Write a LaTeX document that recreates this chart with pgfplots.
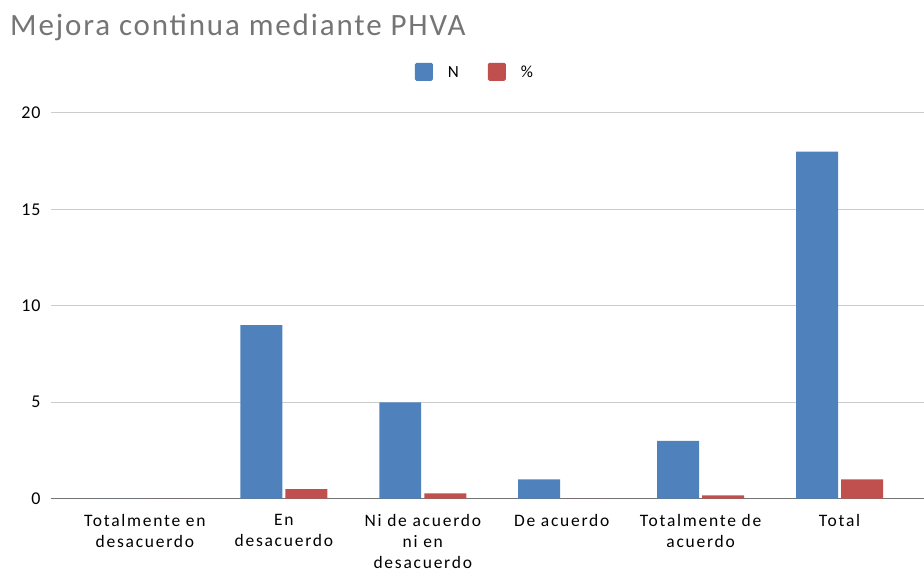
\documentclass[border=0pt]{standalone}
\usepackage{pgfplots}
\pgfplotsset{compat=1.18}
\usepackage{fontspec}
\setmainfont{Carlito}
\newfontfamily\labfont[LetterSpace=10]{Carlito}
\newfontfamily\legfont[LetterSpace=6]{Carlito}
\newfontfamily\titfont[LetterSpace=6]{Carlito}
\newfontfamily\tickfont[LetterSpace=4]{Carlito}
\definecolor{barblue}{HTML}{4F81BD}
\definecolor{barred}{HTML}{C0504D}
\definecolor{titlegray}{HTML}{757575}
\begin{document}
\begin{tikzpicture}
\begin{axis}[
  at={(0,0)}, anchor=south west,
  scale only axis, width=873pt, height=386pt,
  xmin=-0.676, xmax=5.604, ymin=0, ymax=20,
  ytick={0,5,10,15,20},
  xtick={0,1,2,3,4,5},
  xticklabels={{Totalmente en\\desacuerdo},{En\\desacuerdo},{Ni de acuerdo\\ni en\\desacuerdo},{De acuerdo},{Totalmente de\\acuerdo},{Total}},
  xticklabel style={align=center, font=\labfont\fontsize{17.5}{21}\selectfont, text=black, yshift=-12pt},
  yticklabel style={font=\tickfont\fontsize{18}{20}\selectfont, text=black, xshift=-7pt},
  /pgf/number format/assume math mode=true,
  axis line style={draw=none},
  major tick length=0pt,
  ymajorgrids, grid style={draw=black!20, line width=0.9pt},
  clip=false,
  legend style={at={(0.486,1.106)}, anchor=center, draw=none, fill=none,
    legend columns=2, font=\legfont\fontsize{17}{20}\selectfont,
    /tikz/every even column/.append style={column sep=27pt},
    legend cell align=left},
]
\draw[black!55, line width=1pt] (rel axis cs:0,0) -- (rel axis cs:1,0);
\addplot[ybar, bar width=0.302, bar shift=-0.162, fill=barblue, draw=none,
  legend image code/.code={\fill[barblue, draw=none, rounded corners=1.5pt] (0pt,-8pt) rectangle (18pt,10pt); \path[draw=none, fill=none] (31pt,0pt);}]
  coordinates {(0,0) (1,9) (2,5) (3,1) (4,3) (5,18)};
\addlegendentry{N}
\addplot[ybar, bar width=0.302, bar shift=0.162, fill=barred, draw=none,
  legend image code/.code={\fill[barred, draw=none, rounded corners=1.5pt] (0pt,-8pt) rectangle (18pt,10pt); \path[draw=none, fill=none] (31pt,0pt);}]
  coordinates {(0,0) (1,0.5) (2,0.28) (3,0) (4,0.17) (5,1)};
\addlegendentry{\%}
\node[anchor=base west, inner sep=0, text=titlegray, font=\titfont\fontsize{31}{36}\selectfont]
  at ([xshift=-41pt, yshift=77pt]rel axis cs:0,1) {Mejora continua mediante PHVA};
\end{axis}
\path[use as bounding box] (-51pt,-67pt) rectangle (873pt,499pt);
\end{tikzpicture}
\end{document}
